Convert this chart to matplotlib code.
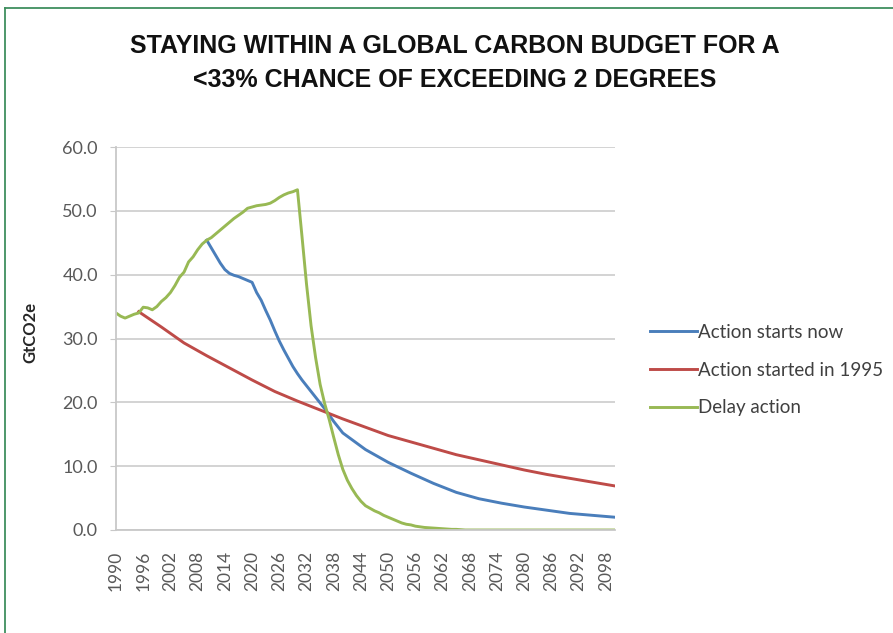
import matplotlib.pyplot as plt
from matplotlib.lines import Line2D

# Delay action (GtCO2e)
delay_years = list(range(1990, 2069)) + [2100]
delay_vals = [34.0, 33.5, 33.2, 33.5, 33.8, 34.0, 34.9, 34.8, 34.5, 35.0,
              35.8, 36.4, 37.2, 38.3, 39.6, 40.4, 42.0, 42.8, 43.9, 44.8,
              45.4, 45.8, 46.4, 47.0, 47.6, 48.2, 48.8, 49.3, 49.8, 50.4,
              50.6, 50.8, 50.9, 51.0, 51.2, 51.6, 52.1, 52.5, 52.8, 53.0,
              53.3, 46.0, 38.5, 32.0, 27.0, 22.8, 19.8, 17.3, 14.5, 11.8,
              9.5, 7.8, 6.5, 5.4, 4.5, 3.8, 3.4, 3.0, 2.7, 2.3,
              2.0, 1.7, 1.4, 1.1, 0.9, 0.8, 0.6, 0.5, 0.4, 0.35,
              0.3, 0.25, 0.2, 0.15, 0.1, 0.1, 0.05, 0.0, 0.0, 0.0]

# Action starts now
now_years = list(range(2010, 2041)) + [2045, 2050, 2055, 2060, 2065, 2070,
                                       2075, 2080, 2085, 2090, 2095, 2100]
now_vals = [45.4, 44.2, 43.0, 41.8, 40.8, 40.2, 39.9, 39.7, 39.4, 39.1,
            38.8, 37.2, 36.0, 34.4, 32.9, 31.2, 29.6, 28.2, 26.9, 25.6,
            24.5, 23.5, 22.6, 21.7, 20.8, 19.9, 19.0, 18.0, 17.0, 16.1,
            15.2, 12.6, 10.6, 8.9, 7.3, 5.9, 4.9, 4.2, 3.6, 3.1,
            2.6, 2.3, 2.0]

# Action started in 1995
y1995_years = list(range(1995, 2101, 5))
y1995_vals = [34.2, 31.8, 29.3, 27.3, 25.4, 23.5, 21.7, 20.2, 18.8, 17.4,
              16.1, 14.8, 13.8, 12.8, 11.8, 11.0, 10.2, 9.4, 8.7, 8.1,
              7.5, 6.9]

labels = ["Action starts now", "Action started in 1995", "Delay action"]
colors = ['#4a7ebb', '#be4b48', '#98b954']

plt.rcParams['font.family'] = ['Lato', 'DejaVu Sans']

fig = plt.figure(figsize=(8.93, 6.33), dpi=100)
ax = fig.add_axes([116/893, 1-530/633, 499/893, 383/633])

line1, = ax.plot(now_years, now_vals, color=colors[0], lw=2.1)
line2, = ax.plot(y1995_years, y1995_vals, color=colors[1], lw=2.1)
line3, = ax.plot(delay_years, delay_vals, color=colors[2], lw=2.1)

ax.set_xlim(1990, 2100)
ax.set_ylim(0, 60)
ax.set_yticks(range(0, 61, 10))
ax.set_yticklabels(['%.1f' % v for v in range(0, 61, 10)])
ax.set_xticks(range(1990, 2100, 6))
ax.set_xticklabels([str(y) for y in range(1990, 2100, 6)], rotation=90)
ax.grid(axis='y', color='#d0d0d0', lw=1.3)
ax.set_axisbelow(True)
for s in ['top', 'right']:
    ax.spines[s].set_visible(False)
for s in ['left', 'bottom']:
    ax.spines[s].set_color('#c8c8c8')
    ax.spines[s].set_linewidth(1.3)
ax.tick_params(axis='y', length=4, color='#c8c8c8', labelsize=13,
               labelcolor='#595959', pad=9)
ax.tick_params(axis='x', length=0, labelsize=12.5, labelcolor='#595959', pad=15)

fig.text(30/893, 1-332/633, 'GtCO2e', rotation=90, ha='center', va='center',
         fontsize=12, fontweight='bold', color='#262626')

fig.text(455/893, 1-46/633, 'STAYING WITHIN A GLOBAL CARBON BUDGET FOR A',
         ha='center', va='center', fontsize=18, fontweight='bold',
         family='Liberation Sans', color='#111111')
fig.text(455/893, 1-80/633, '<33% CHANCE OF EXCEEDING 2 DEGREES',
         ha='center', va='center', fontsize=18, fontweight='bold',
         family='Liberation Sans', color='#111111')

fig.legend([line1, line2, line3], labels, loc='center left',
           bbox_to_anchor=(633/893, 1-370/633), frameon=False,
           handlelength=2.5, handletextpad=0.05, labelspacing=1.1,
           fontsize=13.5, labelcolor='#404040')

# green frame
fig.add_artist(Line2D([5/893, 1], [1-8/633, 1-8/633], color='#3f8f5f', lw=1.3))
fig.add_artist(Line2D([5/893, 5/893], [0, 1-8/633], color='#3f8f5f', lw=1.3))

fig.savefig('out.png', dpi=100)
